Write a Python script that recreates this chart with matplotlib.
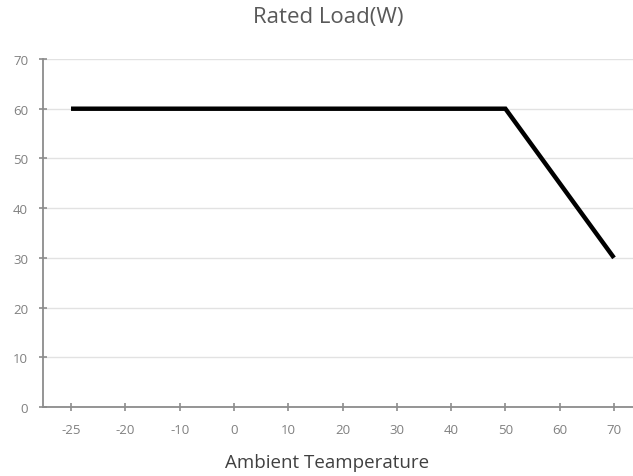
#!/usr/bin/env python3
import numpy as np
import matplotlib
matplotlib.use("Agg")
import matplotlib.pyplot as plt

# ====== DATA ======
CATEGORIES = ["-25", "-20", "-10", "0", "10", "20", "30", "40", "50", "60", "70"]
LOAD_W     = [60, 60, 60, 60, 60, 60, 60, 60, 60, 45, 30]
Y_TICKS    = [0, 10, 20, 30, 40, 50, 60, 70]
# ==================

plt.rcParams['font.family'] = ['Open Sans', 'DejaVu Sans']

fig = plt.figure(figsize=(6.33, 4.77), dpi=100)
ax = fig.add_axes([43/633, 1 - 408/477, 1 - 43/633, (408 - 60)/477])

x = np.arange(len(CATEGORIES))
ax.plot(x, LOAD_W, color='black', lw=3.2, solid_joinstyle='miter', solid_capstyle='butt', zorder=3)

ax.set_xlim(-0.516, 10.35)
ax.set_ylim(0, 70)
ax.set_xticks(x)
ax.set_xticklabels(CATEGORIES)
ax.set_yticks(Y_TICKS)

ax.grid(axis='y', color='#e2e2e2', lw=1)
ax.set_axisbelow(True)
for s in ['top', 'right']:
    ax.spines[s].set_visible(False)
for s in ['left', 'bottom']:
    ax.spines[s].set_color('#8c8c8c')
    ax.spines[s].set_linewidth(1.3)

ax.tick_params(axis='both', direction='inout', length=5.5, width=1.2, color='#8c8c8c',
               labelcolor='#808080', labelsize=9.5)
ax.tick_params(axis='y', pad=8)
ax.tick_params(axis='x', pad=9)

fig.text(328/633, 1 - 18/477, "Rated Load(W)", ha='center', va='center', fontsize=16, color='#595959')
fig.text(327/633, 1 - 463/477, "Ambient Teamperature", ha='center', va='center', fontsize=13.5, color='#404040')

fig.savefig("out.png", dpi=100)
